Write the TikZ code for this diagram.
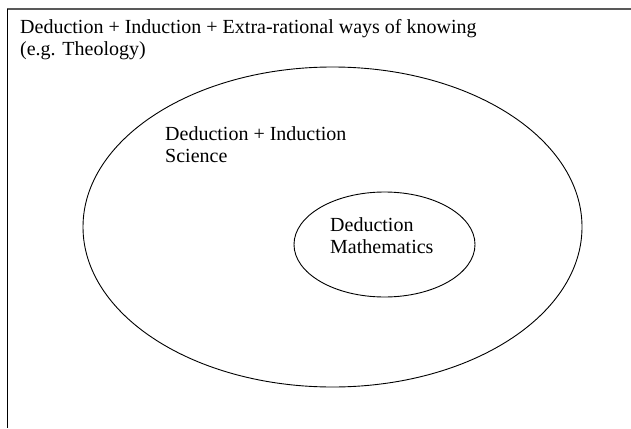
\documentclass[tikz,border=0pt]{standalone}
\usepackage{fontspec}
\setmainfont{Liberation Serif}
\usetikzlibrary{shapes.geometric}
\begin{document}
\begin{tikzpicture}[x=1pt,y=-1pt,
  lbl/.style={anchor=base west,inner sep=0pt,font=\fontsize{20}{22}\selectfont},
  ring/.style={draw=black,line width=0.9pt,ellipse,inner sep=0pt,outer sep=0pt}]
\useasboundingbox (0,0) rectangle (631,428);
\fill[white] (0,0) rectangle (631,428);
\coordinate (tl) at (7,9);
\coordinate (tr) at (631,9);
\coordinate (bl) at (7,428);
\draw[draw=black!65,line width=1.8pt] (tl) -- (tr);
\draw[draw=black,line width=1pt] (tl) -- (bl);
\node[lbl] (t1) at (20,34) {Deduction + Induction + Extra-rational ways of knowing};
\node[lbl] (t2) at (20,56) {(e.g. Theology)};
\node[ring,minimum width=499pt,minimum height=320pt] (big) at (332.5,227) {};
\node[ring,minimum width=181pt,minimum height=105pt] (small) at (384.5,244.5) {};
\node[lbl] (s1) at (165,140) {Deduction + Induction};
\node[lbl] (s2) at (165,162) {Science};
\node[lbl] (m1) at (330,231) {Deduction};
\node[lbl] (m2) at (330,253) {Mathematics};
\end{tikzpicture}
\end{document}
